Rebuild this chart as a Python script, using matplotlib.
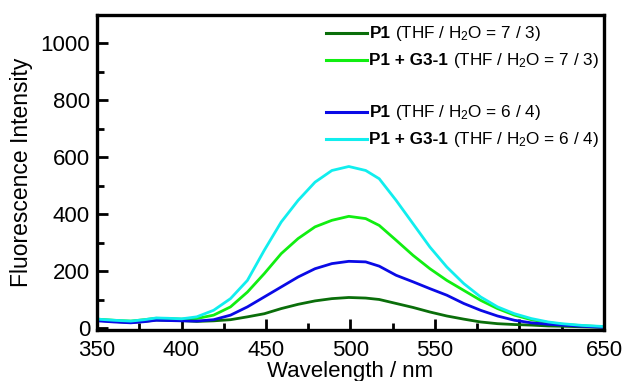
import matplotlib
matplotlib.use("Agg")
import matplotlib.pyplot as plt
from matplotlib.offsetbox import TextArea, HPacker, VPacker, DrawingArea, AnchoredOffsetbox
from matplotlib.lines import Line2D
from matplotlib.ticker import MultipleLocator

plt.rcParams['font.family'] = ['Liberation Sans', 'DejaVu Sans']
plt.rcParams['mathtext.fontset'] = 'custom'
plt.rcParams['mathtext.rm'] = 'Liberation Sans'
plt.rcParams['mathtext.it'] = 'Liberation Sans:italic'
plt.rcParams['mathtext.bf'] = 'Liberation Sans:bold'

wavelength = [350, 360, 370, 378, 385, 392, 400, 409, 419, 429, 439, 449, 459, 469, 479, 489,
              499, 509, 517, 527, 537, 547, 557, 567, 577, 587, 597, 607, 617, 625, 637, 650]
p1_73 = [28, 24, 20, 24, 29, 28, 27, 24, 26, 30, 40, 51, 69, 84, 96, 104,
         108, 106, 101, 87, 73, 57, 43, 32, 22, 16, 13, 11, 8, 7, 5, 3]
p1g_73 = [32, 28, 25, 30, 35, 34, 32, 34, 46, 75, 127, 192, 262, 315, 356, 379,
          393, 385, 361, 309, 256, 209, 168, 133, 98, 69, 46, 30, 20, 14, 9, 5]
p1_64 = [26, 22, 19, 23, 28, 27, 26, 25, 30, 46, 75, 110, 145, 180, 209, 227,
         235, 233, 218, 186, 163, 139, 116, 87, 63, 43, 28, 19, 14, 11, 7, 3]
p1g_64 = [32, 28, 25, 30, 36, 35, 33, 40, 63, 104, 168, 274, 373, 449, 513, 554,
          568, 554, 525, 449, 367, 285, 215, 157, 110, 75, 51, 34, 22, 16, 10, 6]

series = [
    (p1_73, '#0a6e0a', 'P1', '(THF / H$_2$O = 7 / 3)'),
    (p1g_73, '#11ee11', 'P1 + G3-1', '(THF / H$_2$O = 7 / 3)'),
    (p1_64, '#0a0ae6', 'P1', '(THF / H$_2$O = 6 / 4)'),
    (p1g_64, '#11eeee', 'P1 + G3-1', '(THF / H$_2$O = 6 / 4)'),
]

fig = plt.figure(figsize=(6.23, 3.81), dpi=100)
ax = fig.add_axes([0.1557, 0.134, 0.8138, 0.8266])

for y, c, b, r in series:
    ax.plot(wavelength, y, color=c, lw=2.0, solid_joinstyle='round')

ax.set_xlim(350, 650)
ax.set_ylim(-6, 1100)
ax.xaxis.set_major_locator(MultipleLocator(50))
ax.xaxis.set_minor_locator(MultipleLocator(25))
ax.yaxis.set_major_locator(MultipleLocator(200))
ax.yaxis.set_minor_locator(MultipleLocator(100))
ax.tick_params(which='both', direction='in', top=False, right=False, width=2, labelsize=16)
ax.tick_params(which='major', length=8)
ax.tick_params(which='minor', length=5)
ax.tick_params(axis='x', pad=7.5)
ax.tick_params(axis='y', pad=5)
for s in ax.spines.values():
    s.set_linewidth(2.4)

ax.set_xlabel('Wavelength / nm', fontsize=16, labelpad=0)
ax.set_ylabel('Fluorescence Intensity', fontsize=16.5, labelpad=5)

rows = []
for i, (y, c, b, r) in enumerate(series):
    da = DrawingArea(30, 8, 0, 0)
    da.add_artist(Line2D([0, 30], [4, 4], color=c, lw=2.2))
    tb = TextArea(b, textprops=dict(fontsize=12.3, fontweight='bold'))
    tr = TextArea(r, textprops=dict(fontsize=12.3))
    txt = HPacker(children=[tb, tr], align='baseline', pad=0, sep=3.5)
    rows.append(HPacker(children=[da, txt], align='center', pad=0, sep=1.5))
    if i == 1:
        rows.append(DrawingArea(10, 12, 0, 0))
vp = VPacker(children=rows, align='left', pad=0, sep=5.8)
ab = AnchoredOffsetbox(loc='upper left', child=vp, frameon=False,
                       bbox_to_anchor=(0.44, 0.99), bbox_transform=ax.transAxes, borderpad=0)
ax.add_artist(ab)

fig.savefig('out.png', dpi=100)
